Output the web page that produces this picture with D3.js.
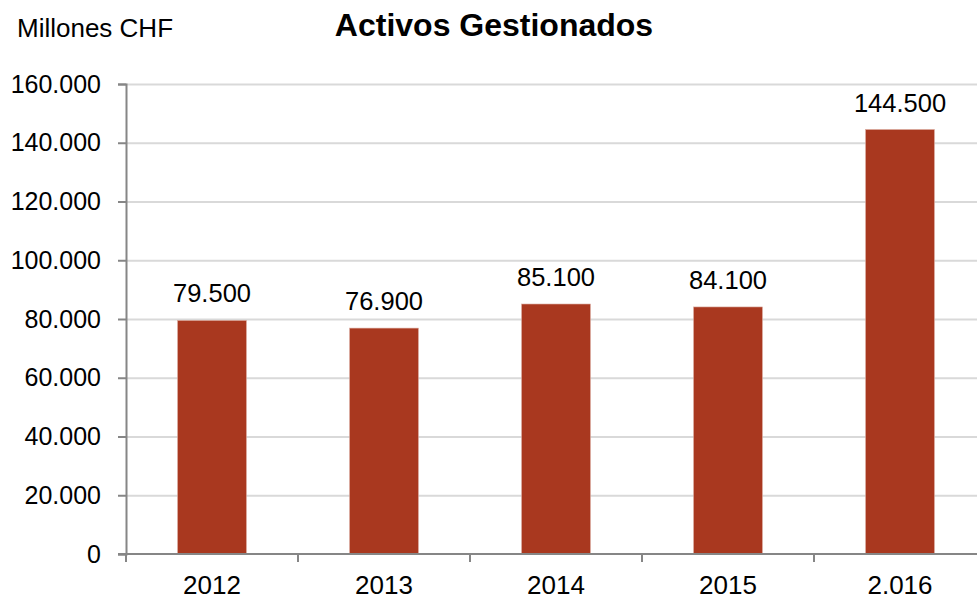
<!DOCTYPE html>
<html>
<head>
<meta charset="utf-8">
<script src="https://cdn.jsdelivr.net/npm/d3@7"></script>
<style>
body { margin: 0; background: #fff; }
text { font-family: "Liberation Sans", Arial, sans-serif; fill: #000; }
</style>
</head>
<body>
<svg width="977" height="598"></svg>
<script>
// data
var years = ['2012', '2013', '2014', '2015', '2.016'];
var assets = [79500, 76900, 85100, 84100, 144500];
var yTicks = [0, 20000, 40000, 60000, 80000, 100000, 120000, 140000, 160000];

var fmt = function(v) { return d3.format(',')(v).replace(/,/g, '.'); };

var svg = d3.select('svg');
var plotLeft = 126, plotRight = 986, plotTop = 84, plotBottom = 554;

var x = d3.scaleBand().domain(years).range([plotLeft, plotRight]).paddingInner(0.6).paddingOuter(0.3);
var y = d3.scaleLinear().domain([0, 160000]).range([plotBottom, plotTop]);

// gridlines
svg.append('g')
	.selectAll('line')
	.data(yTicks.slice(1))
	.enter()
	.append('line')
	.attr('x1', plotLeft)
	.attr('x2', 977)
	.attr('y1', function(d) { return y(d) + 0.5; })
	.attr('y2', function(d) { return y(d) + 0.5; })
	.style('stroke', '#d9d9d9')
	.style('stroke-width', 2);

// bars
svg.append('g')
	.selectAll('rect')
	.data(assets)
	.enter()
	.append('rect')
	.attr('x', function(d, i) { return x(years[i]); })
	.attr('y', function(d) { return y(d); })
	.attr('width', x.bandwidth())
	.attr('height', function(d) { return plotBottom - y(d); })
	.style('fill', '#a9381f')
	.style('stroke', '#d9a89c')
	.style('stroke-width', 0.6);

// value labels
svg.append('g')
	.selectAll('text')
	.data(assets)
	.enter()
	.append('text')
	.attr('x', function(d, i) { return x(years[i]) + x.bandwidth() / 2; })
	.attr('y', function(d) { return y(d) - 18; })
	.attr('text-anchor', 'middle')
	.style('font-size', '25.5px')
	.text(fmt);

// y axis
var yAxis = svg.append('g')
	.attr('transform', 'translate(' + plotLeft + ',0)')
	.call(d3.axisLeft(y).tickValues(yTicks).tickSize(8).tickPadding(17).tickFormat(fmt));
yAxis.selectAll('text').style('font-size', '25px').attr('font-family', null);
yAxis.selectAll('line, path').style('stroke', '#868686').style('stroke-width', 2);

// x axis (ticks at category boundaries)
var xAxis = svg.append('g').attr('transform', 'translate(0,' + plotBottom + ')');
var step = x.step();
xAxis.append('line')
	.attr('x1', plotLeft - 8).attr('x2', 977)
	.style('stroke', '#868686').style('stroke-width', 2);
xAxis.selectAll('.tk')
	.data(d3.range(years.length + 1))
	.enter()
	.append('line')
	.attr('class', 'tk')
	.attr('x1', function(i) { return plotLeft + i * step; })
	.attr('x2', function(i) { return plotLeft + i * step; })
	.attr('y1', 0).attr('y2', 8)
	.style('stroke', '#868686').style('stroke-width', 2);
xAxis.selectAll('.lbl')
	.data(years)
	.enter()
	.append('text')
	.attr('class', 'lbl')
	.attr('x', function(d) { return x(d) + x.bandwidth() / 2; })
	.attr('y', 40)
	.attr('text-anchor', 'middle')
	.style('font-size', '26px')
	.text(function(d) { return d; });

// titles
svg.append('text')
	.attr('x', 17).attr('y', 37)
	.style('font-size', '26px')
	.text('Millones CHF');
svg.append('text')
	.attr('x', 494).attr('y', 36)
	.attr('text-anchor', 'middle')
	.style('font-size', '32px')
	.style('font-weight', 'bold')
	.text('Activos Gestionados');
</script>
</body>
</html>
